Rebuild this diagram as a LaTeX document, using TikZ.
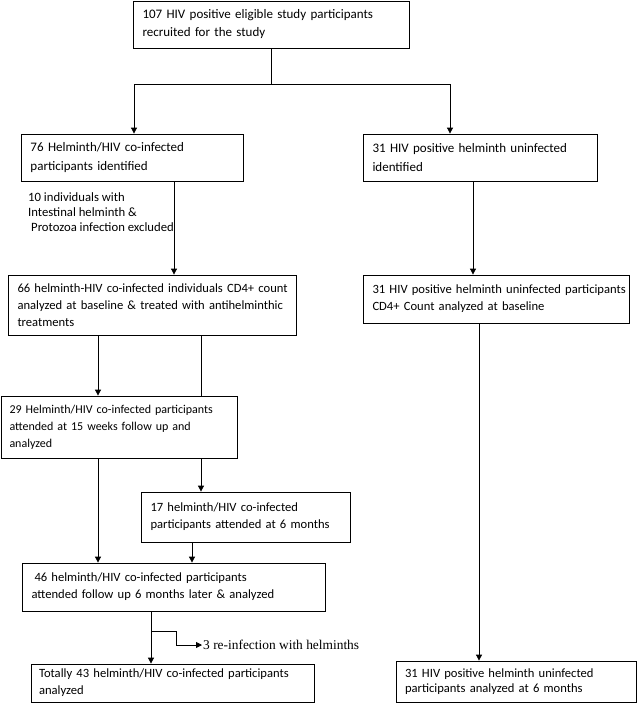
\documentclass[tikz,border=0pt]{standalone}
\usepackage{fontspec}
\setmainfont{Carlito}
\newfontfamily\serifnote{Liberation Serif}
\usetikzlibrary{arrows.meta}
\tikzset{
  flowbox/.style={draw, line width=0.8pt, inner xsep=9.5pt, inner ysep=2pt, align=left, font=\fontsize{12.6}{17}\selectfont},
  arr/.style={line width=0.8pt, -{Triangle[width=6pt,length=6pt]}},
  ln/.style={line width=0.8pt}
}
\begin{document}
\begin{tikzpicture}[x=1pt,y=-1pt]
\useasboundingbox (0,0) rectangle (638,712);
% boxes
\node[flowbox, minimum width=276pt, minimum height=47pt, text width=257pt, font=\fontsize{13}{18}\selectfont] (b1) at (271,24.5)
  {\mbox{107 HIV positive eligible study participants}\\recruited for the study};
\node[flowbox, minimum width=222pt, minimum height=47pt, text width=203pt, font=\fontsize{13}{19}\selectfont] (b2) at (132,157.5)
  {76 Helminth/HIV co-infected\\participants identified};
\node[flowbox, minimum width=234pt, minimum height=47pt, text width=215pt, font=\fontsize{13}{19}\selectfont] (b3) at (480,157.5)
  {31 HIV positive helminth uninfected\\identified};
\node[flowbox, minimum width=288pt, minimum height=60pt, text width=269pt] (b4) at (152,305)
  {\mbox{66 helminth-HIV co-infected individuals CD4+ count}\\\mbox{analyzed at baseline \& treated with antihelminthic}\\treatments};
\node[flowbox, minimum width=266pt, minimum height=48pt, text width=247pt] (b5) at (496,299)
  {\mbox{31 HIV positive helminth uninfected participants}\\CD4+ Count analyzed at baseline};
\node[flowbox, minimum width=236pt, minimum height=62pt, text width=219pt, inner xsep=8.5pt, font=\fontsize{12}{17}\selectfont] (b6) at (119,427)
  {\mbox{29 Helminth/HIV co-infected participants}\\attended at 15 weeks follow up and\\analyzed};
\node[flowbox, minimum width=209pt, minimum height=50pt, text width=190pt] (b7) at (245.5,517)
  {17 helminth/HIV co-infected\\participants attended at 6 months};
\node[flowbox, minimum width=303pt, minimum height=48pt, text width=284pt] (b8) at (173.5,587)
  {\hspace{3pt}46 helminth/HIV co-infected participants\\\mbox{attended follow up 6 months later \& analyzed}};
\node[flowbox, minimum width=283pt, minimum height=38pt, text width=267pt, inner xsep=8pt] (b9) at (172.5,683)
  {\mbox{Totally 43 helminth/HIV co-infected participants}\\analyzed};
\node[flowbox, minimum width=240pt, minimum height=41pt, text width=222pt, inner xsep=9pt, font=\fontsize{12.6}{15}\selectfont] (b10) at (516,681.5)
  {31 HIV positive helminth uninfected\\participants analyzed at 6 months};
% labels
\node[anchor=west, align=left, inner sep=0pt, font=\fontsize{12.7}{15.3}\selectfont] (excl) at (28,212)
  {10 individuals with\\Intestinal helminth \&\\\hspace{3pt}Protozoa infection excluded};
\node[anchor=west, inner sep=0pt, font=\serifnote\fontsize{13.4}{15}\selectfont] (reinf) at (203,645)
  {3 re-infection with helminths};
% connector coordinates
\coordinate (jL) at (134,84);
\coordinate (jR) at (450,84);
\coordinate (x174) at (174,0);
\coordinate (x473) at (473,0);
\coordinate (x98) at (98,0);
\coordinate (x201) at (201,0);
\coordinate (x192) at (192,0);
\coordinate (x479) at (479,0);
\coordinate (x151) at (151,0);
\coordinate (k1) at (151,631);
\coordinate (k2) at (176,631);
\coordinate (k3) at (176,645);
% connectors
\draw[ln] (b1.south) -- (b1.south |- jL);
\draw[ln] (jL) -- (jR);
\draw[arr] (jL) -- (jL |- b2.north);
\draw[arr] (jR) -- (jR |- b3.north);
\draw[arr] (b2.south -| x174) -- (b4.north -| x174);
\draw[arr] (b3.south -| x473) -- (b5.north -| x473);
\draw[arr] (b4.south -| x98) -- (b6.north -| x98);
\draw[ln] (b4.south -| x201) -- (b6.north -| x201);
\draw[arr] (b6.south -| x201) -- (b7.north -| x201);
\draw[arr] (b6.south -| x98) -- (b8.north -| x98);
\draw[arr] (b7.south -| x192) -- (b8.north -| x192);
\draw[arr] (b5.south -| x479) -- (b10.north -| x479);
\draw[arr] (b8.south -| x151) -- (b9.north -| x151);
\draw[ln] (k1) -- (k2) -- (k3);
\draw[arr] (k3) -- ([xshift=-1pt]reinf.west);
\end{tikzpicture}
\end{document}
